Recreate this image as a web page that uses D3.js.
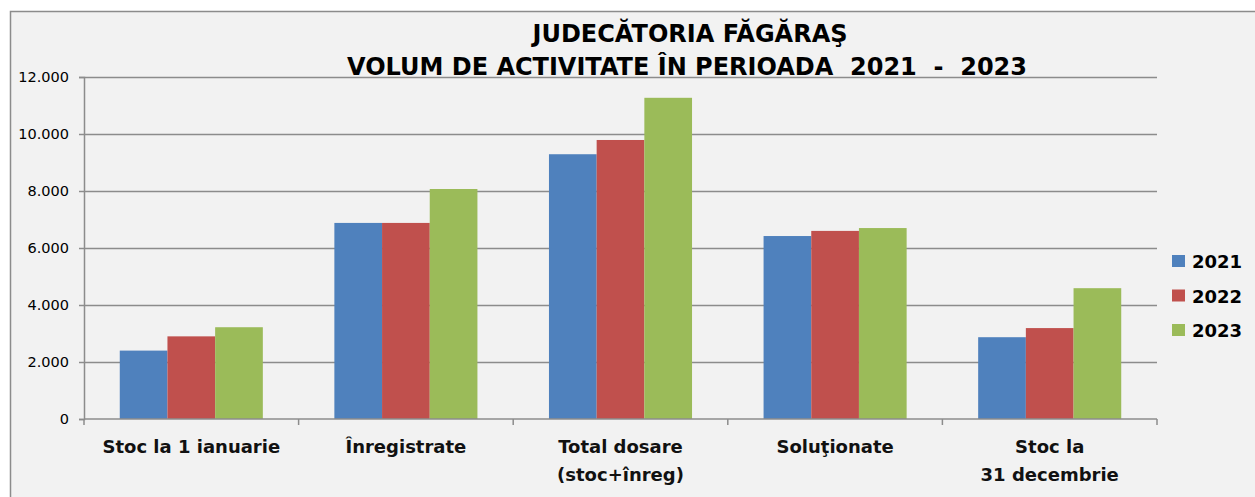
<!DOCTYPE html>
<html>
<head>
<meta charset="utf-8">
<script src="https://cdn.jsdelivr.net/npm/d3@7"></script>
<style>
  body { margin: 0; background: #fff; }
  text { font-family: "DejaVu Sans", sans-serif; }
</style>
</head>
<body>
<svg id="chart"></svg>
<script>
// values
let categories = ["Stoc la 1 ianuarie", "Înregistrate", "Total dosare\n(stoc+înreg)", "Soluţionate", "Stoc la\n31 decembrie"];
let years = ["2021", "2022", "2023"];
let v2021 = [2400, 6880, 9290, 6420, 2870];
let v2022 = [2900, 6880, 9790, 6600, 3190];
let v2023 = [3220, 8070, 11270, 6700, 4590];
let yTicks = [0, 2000, 4000, 6000, 8000, 10000, 12000];
let colors = ["#4f81bd", "#c0504d", "#9bbb59"];

let series = [v2021, v2022, v2023];

let w = 1255, h = 497;
let margin = { top: 77, right: 98, bottom: 78, left: 84 };

let svg = d3.select("#chart")
    .attr("width", w)
    .attr("height", h);

// chart area background + border
svg.append("rect")
    .attr("x", 10.5).attr("y", 11.5)
    .attr("width", w + 20).attr("height", h)
    .attr("fill", "#f2f2f2")
    .attr("stroke", "#8c8c8c")
    .attr("stroke-width", 1.5);

let x0 = d3.scaleBand()
    .domain(categories)
    .range([margin.left, w - margin.right])
    .paddingInner(0)
    .paddingOuter(0);

let x1 = d3.scaleBand()
    .domain(years)
    .range([0, x0.bandwidth()])
    .paddingOuter(0.75);

let y = d3.scaleLinear()
    .domain([0, 12000])
    .range([h - margin.bottom, margin.top]);

let fmt = d3.format(",");
let fmtTick = function (d) { return fmt(d).replace(/,/g, "."); };

// gridlines
svg.append("g")
    .selectAll("line")
    .data(yTicks.slice(1))
    .enter()
    .append("line")
    .attr("x1", margin.left)
    .attr("x2", w - margin.right)
    .attr("y1", function (d) { return Math.round(y(d)) + 0.5; })
    .attr("y2", function (d) { return Math.round(y(d)) + 0.5; })
    .attr("stroke", "#8c8c8c")
    .attr("stroke-width", 1.5);

// bars
years.forEach(function (yr, i) {
    svg.append("g")
        .selectAll("rect")
        .data(series[i])
        .enter()
        .append("rect")
        .attr("x", function (d, j) { return x0(categories[j]) + x1(yr); })
        .attr("y", function (d) { return y(d); })
        .attr("width", x1.bandwidth())
        .attr("height", function (d) { return y(0) - y(d); })
        .attr("fill", colors[i]);
});

// y axis
let yAxis = d3.axisLeft(y)
    .tickValues(yTicks)
    .tickFormat(fmtTick)
    .tickSize(5)
    .tickPadding(10);

let gy = svg.append("g")
    .attr("transform", "translate(" + margin.left + ",0)")
    .call(yAxis);
gy.select(".domain").attr("stroke", "#8c8c8c").attr("stroke-width", 1.5);
gy.selectAll(".tick line").attr("stroke", "#8c8c8c").attr("stroke-width", 1.5);
gy.selectAll(".tick text")
    .attr("font-size", 14.5)
    .attr("fill", "#000")
    .style("font-family", "\"DejaVu Sans\", sans-serif");

// x axis line and category ticks
let base = y(0);
svg.append("line")
    .attr("x1", margin.left).attr("x2", w - margin.right)
    .attr("y1", base).attr("y2", base)
    .attr("stroke", "#8c8c8c").attr("stroke-width", 1.5);

let bounds = categories.map(function (c) { return x0(c); }).concat([w - margin.right]);
svg.append("g")
    .selectAll("line")
    .data(bounds)
    .enter()
    .append("line")
    .attr("x1", function (d) { return d; })
    .attr("x2", function (d) { return d; })
    .attr("y1", base)
    .attr("y2", base + 6)
    .attr("stroke", "#8c8c8c")
    .attr("stroke-width", 1.5);

// category labels
svg.append("g")
    .selectAll("text")
    .data(categories)
    .enter()
    .append("text")
    .attr("text-anchor", "middle")
    .attr("font-size", 18)
    .attr("font-weight", "bold")
    .attr("fill", "#111")
    .each(function (c) {
        let lines = c.split("\n");
        let t = d3.select(this);
        lines.forEach(function (l, k) {
            t.append("tspan")
                .attr("x", x0(c) + x0.bandwidth() / 2)
                .attr("y", 453 + k * 28)
                .text(l);
        });
    });

// title
svg.append("text")
    .attr("x", 690).attr("y", 42)
    .attr("text-anchor", "middle")
    .attr("font-size", 24)
    .attr("font-weight", "bold")
    .text("JUDECĂTORIA FĂGĂRAŞ");

svg.append("text")
    .attr("x", 687).attr("y", 75)
    .attr("text-anchor", "middle")
    .attr("font-size", 24)
    .attr("font-weight", "bold")
    .style("white-space", "pre")
    .text("VOLUM DE ACTIVITATE ÎN PERIOADA  2021  -  2023");

// legend
let legend = svg.append("g")
    .selectAll("g")
    .data(years)
    .enter()
    .append("g")
    .attr("transform", function (d, i) { return "translate(1172," + (255 + i * 34.5) + ")"; });

legend.append("rect")
    .attr("width", 13).attr("height", 12)
    .attr("fill", function (d, i) { return colors[i]; });

legend.append("text")
    .attr("x", 20).attr("y", 13)
    .attr("font-size", 18)
    .attr("font-weight", "bold")
    .text(function (d) { return d; });
</script>
</body>
</html>
